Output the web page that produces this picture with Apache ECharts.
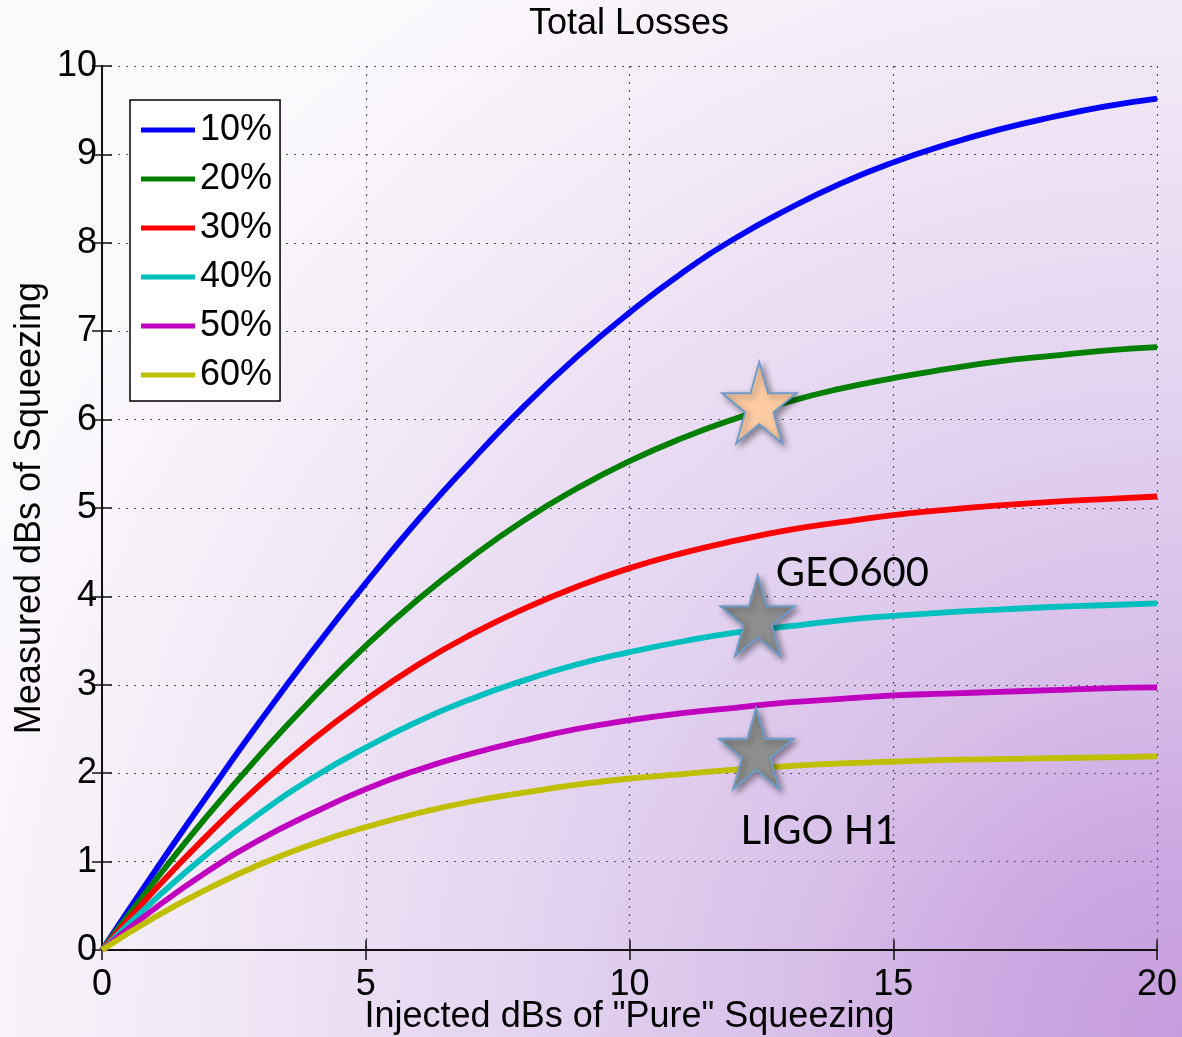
<!DOCTYPE html>
<html><head><meta charset="utf-8">
<script src="https://cdn.jsdelivr.net/npm/echarts@6/dist/echarts.min.js"></script>
<style>html,body{margin:0;padding:0;width:1182px;height:1037px;overflow:hidden;}#chart{width:1182px;height:1037px;}</style>
</head><body><div id="chart"></div>
<script>
// ---- data ----
const injectedDb = [0,1,2,3,4,5,6,7,8,9,10,11,12,13,14,15,16,17,18,19,20];
const loss10 = [0,0.89,1.75,2.59,3.39,4.15,4.87,5.53,6.15,6.71,7.21,7.66,8.05,8.38,8.67,8.91,9.11,9.28,9.42,9.54,9.63];
const loss20 = [0,0.78,1.52,2.21,2.85,3.44,3.97,4.44,4.86,5.22,5.53,5.79,6.01,6.20,6.35,6.47,6.57,6.66,6.72,6.78,6.82];
const loss30 = [0,0.68,1.30,1.87,2.38,2.83,3.23,3.57,3.86,4.11,4.32,4.49,4.63,4.75,4.84,4.92,4.98,5.03,5.07,5.10,5.13];
const loss40 = [0,0.57,1.09,1.55,1.95,2.29,2.59,2.84,3.05,3.23,3.37,3.49,3.59,3.66,3.73,3.78,3.82,3.85,3.88,3.90,3.92];
const loss50 = [0,0.47,0.89,1.25,1.55,1.82,2.04,2.22,2.37,2.50,2.60,2.68,2.74,2.80,2.84,2.88,2.90,2.92,2.94,2.96,2.97];
const loss60 = [0,0.37,0.69,0.97,1.20,1.39,1.55,1.68,1.78,1.87,1.94,1.99,2.04,2.08,2.11,2.13,2.15,2.16,2.17,2.18,2.19];
const seriesNames = ['10%','20%','30%','40%','50%','60%'];
const xRange = [0, 20, 5];   // min, max, interval
const yRange = [0, 10, 1];
const starX = [12.46, 12.43, 12.40];
const starY = [6.19, 3.78, 2.28];
const starNames = ['', 'GEO600', 'LIGO H1'];
const titleText = 'Total Losses';
const xName = 'Injected dBs of "Pure" Squeezing';
const yName = 'Measured dBs of Squeezing';

// ---- styling ----
const lossData = [loss10, loss20, loss30, loss40, loss50, loss60];
const lineColors = ['#0000ff', '#008000', '#ff0000', '#00bfbf', '#bf00bf', '#bfbf00'];
const FONT = '"Liberation Sans", Arial, Helvetica, sans-serif';
const STAR = 'path://M100 0 L122.45 69.1 L195.1 69.1 L136.3 111.8 L158.8 180.9 L100 138.2 L41.2 180.9 L63.7 111.8 L4.9 69.1 L77.55 69.1 Z';

const lineSeries = seriesNames.map((n, i) => ({
  name: n, type: 'line', xAxisIndex: 0, yAxisIndex: 0,
  data: injectedDb.map((x, j) => [x, lossData[i][j]]),
  symbol: 'none', smooth: 0.5,
  lineStyle: { color: lineColors[i], width: 5.8 },
  itemStyle: { color: lineColors[i] },
  z: 3
}));

const starShadow = { shadowColor: 'rgba(0,0,0,0.4)', shadowBlur: 6, shadowOffsetX: 3, shadowOffsetY: 3 };
const labelCfg = [
  null,
  { align: 'left', offset: [18, -43] },
  { align: 'center', offset: [63, 83] }
];
const starItems = starX.map((x, i) => {
  const item = { name: starNames[i], value: [x, starY[i]] };
  if (labelCfg[i]) {
    item.label = Object.assign({ show: true, position: 'inside', formatter: '{b}',
      verticalAlign: 'middle', color: '#000', fontSize: 40, fontFamily: 'Lato, "Open Sans", sans-serif' }, labelCfg[i]);
  }
  return item;
});

const option = {
  animation: false,
  backgroundColor: {
    type: 'radial', x: 1, y: 1, r: 1.25,
    colorStops: [
      { offset: 0, color: '#c59cdc' },
      { offset: 0.15, color: '#cda9e2' },
      { offset: 0.3, color: '#d8bfe9' },
      { offset: 0.5, color: '#e3d3f0' },
      { offset: 0.65, color: '#ebdff4' },
      { offset: 0.8, color: '#f3ecf7' },
      { offset: 0.92, color: '#f8f4fa' },
      { offset: 1, color: '#fbf9fc' }
    ]
  },
  title: {
    text: titleText, left: 529, top: 6, padding: 0,
    textStyle: { fontFamily: FONT, fontSize: 36, fontWeight: 'normal', color: '#000' }
  },
  legend: {
    data: seriesNames, orient: 'vertical', left: 130, top: 100,
    padding: [12, 8, 8, 11], itemGap: 13, itemWidth: 54, itemHeight: 5,
    icon: 'rect', backgroundColor: '#ffffff', borderColor: '#000', borderWidth: 1.5, borderRadius: 0,
    textStyle: { fontFamily: FONT, fontSize: 36, color: '#000', lineHeight: 36 },
    selectedMode: false
  },
  grid: { left: 102, top: 66, width: 1055, height: 884, containLabel: false, outerBoundsMode: 'none' },
  xAxis: [{
    type: 'value', min: xRange[0], max: xRange[1], interval: xRange[2],
    name: xName, nameLocation: 'middle', nameGap: 49, nameMoveOverlap: false,
    nameTextStyle: { fontFamily: FONT, fontSize: 36, color: '#000' },
    axisLine: { show: true, lineStyle: { color: '#111', width: 2 } },
    axisTick: { show: true, inside: true, length: 10, lineStyle: { color: '#111', width: 1.5 } },
    axisLabel: { fontFamily: FONT, fontSize: 36, color: '#000', margin: 17 },
    splitLine: { show: true, lineStyle: { color: '#555', width: 1.2, type: [2, 6] } }
  }, {
    type: 'value', position: 'top', min: xRange[0], max: xRange[1], interval: xRange[2],
    axisLine: { show: true, lineStyle: { color: '#111', width: 2 } },
    axisTick: { show: true, inside: true, length: 10, lineStyle: { color: '#111', width: 1.5 } },
    axisLabel: { show: false }, splitLine: { show: false }
  }],
  yAxis: [{
    type: 'value', min: yRange[0], max: yRange[1], interval: yRange[2],
    name: yName, nameLocation: 'middle', nameGap: 54, nameMoveOverlap: false,
    nameTextStyle: { fontFamily: FONT, fontSize: 36, color: '#000' },
    axisLine: { show: true, lineStyle: { color: '#111', width: 2 } },
    axisTick: { show: true, inside: true, length: 10, lineStyle: { color: '#111', width: 1.5 } },
    axisLabel: { fontFamily: FONT, fontSize: 36, color: '#000', margin: 5 },
    splitLine: { show: true, lineStyle: { color: '#555', width: 1.2, type: [2, 6] } }
  }, {
    type: 'value', position: 'right', min: yRange[0], max: yRange[1], interval: yRange[2],
    axisLine: { show: true, lineStyle: { color: '#111', width: 2 } },
    axisTick: { show: true, inside: true, length: 10, lineStyle: { color: '#111', width: 1.5 } },
    axisLabel: { show: false }, splitLine: { show: false }
  }],
  series: lineSeries.concat([
    {
      name: 'target', type: 'scatter', xAxisIndex: 0, yAxisIndex: 0,
      data: starItems.slice(0, 1), symbol: STAR, symbolSize: [74, 81],
      itemStyle: Object.assign({ color: '#fccba2', borderColor: '#6f9bc9', borderWidth: 2, opacity: 1 }, starShadow),
      z: 5
    },
    {
      name: 'detectors', type: 'scatter', xAxisIndex: 0, yAxisIndex: 0,
      data: starItems.slice(1), symbol: STAR, symbolSize: [74, 81],
      itemStyle: Object.assign({ color: '#8e8e8e', borderColor: '#6f9bc9', borderWidth: 2, opacity: 1 }, starShadow),
      z: 5
    }
  ])
};

const chart = echarts.init(document.getElementById('chart'), null, { renderer: 'canvas' });
chart.setOption(option);
</script>
</body></html>
